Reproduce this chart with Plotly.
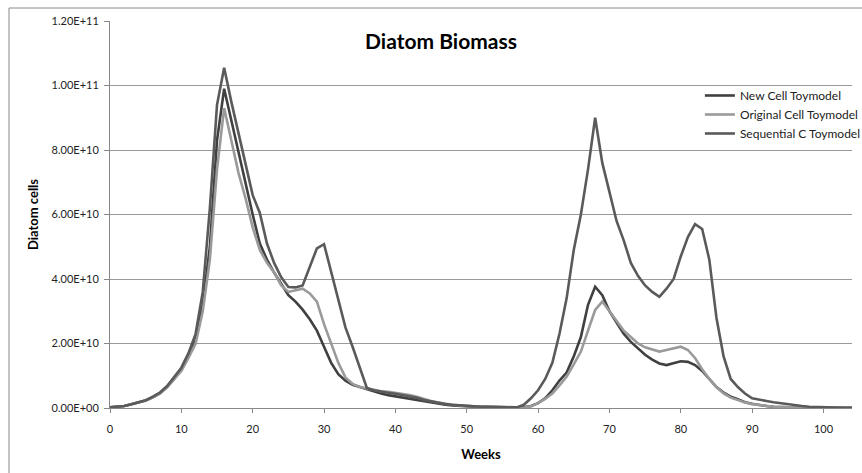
import plotly.graph_objects as go

# Weeks 0..104
weeks = list(range(105))

# Diatom cell counts, in units of 1e10 cells
new_cell = [
    0.02, 0.03, 0.06, 0.12, 0.18, 0.23, 0.33, 0.45, 0.65, 0.90,   # 0-9
    1.20, 1.60, 2.10, 3.20, 5.00, 8.30, 9.90, 8.90, 7.90, 7.00,   # 10-19
    6.00, 5.10, 4.60, 4.20, 3.85, 3.50, 3.30, 3.05, 2.75, 2.40,   # 20-29
    1.90, 1.40, 1.05, 0.85, 0.72, 0.65, 0.60, 0.52, 0.45, 0.40,   # 30-39
    0.36, 0.32, 0.30, 0.25, 0.20, 0.16, 0.13, 0.10, 0.08, 0.06,   # 40-49
    0.05, 0.04, 0.04, 0.03, 0.03, 0.03, 0.02, 0.02, 0.02, 0.06,   # 50-59
    0.15, 0.30, 0.55, 0.85, 1.10, 1.60, 2.20, 3.20, 3.76, 3.50,   # 60-69
    3.00, 2.65, 2.30, 2.05, 1.85, 1.65, 1.50, 1.38, 1.33, 1.40,   # 70-79
    1.45, 1.43, 1.33, 1.15, 0.90, 0.65, 0.48, 0.35, 0.27, 0.18,   # 80-89
    0.13, 0.09, 0.06, 0.04, 0.03, 0.02, 0.02, 0.01, 0.01, 0.01,   # 90-99
    0.01, 0.01, 0.01, 0.01, 0.01,                                 # 100-104
]

original_cell = [
    0.02, 0.03, 0.06, 0.12, 0.18, 0.23, 0.33, 0.45, 0.65, 0.90,
    1.15, 1.55, 2.00, 3.00, 4.60, 7.40, 9.30, 8.30, 7.30, 6.50,
    5.60, 4.90, 4.50, 4.20, 3.80, 3.60, 3.65, 3.70, 3.55, 3.30,
    2.60, 2.00, 1.40, 0.95, 0.75, 0.65, 0.60, 0.56, 0.52, 0.50,
    0.47, 0.44, 0.40, 0.35, 0.28, 0.22, 0.17, 0.13, 0.10, 0.08,
    0.06, 0.05, 0.04, 0.04, 0.03, 0.03, 0.02, 0.02, 0.01, 0.05,
    0.15, 0.28, 0.45, 0.70, 0.97, 1.35, 1.75, 2.40, 3.04, 3.30,
    3.00, 2.70, 2.40, 2.20, 2.00, 1.88, 1.82, 1.75, 1.80, 1.85,
    1.90, 1.80, 1.55, 1.20, 0.90, 0.65, 0.45, 0.32, 0.24, 0.17,
    0.12, 0.09, 0.06, 0.04, 0.03, 0.02, 0.02, 0.01, 0.01, 0.01,
    0.01, 0.01, 0.01, 0.01, 0.01,
]

sequential_c = [
    0.02, 0.03, 0.06, 0.12, 0.18, 0.24, 0.35, 0.48, 0.68, 0.95,
    1.25, 1.70, 2.30, 3.60, 6.20, 9.40, 10.55, 9.50, 8.50, 7.50,
    6.60, 6.05, 5.10, 4.50, 4.05, 3.75, 3.74, 3.80, 4.40, 4.95,
    5.08, 4.20, 3.30, 2.50, 1.90, 1.25, 0.62, 0.55, 0.50, 0.47,
    0.44, 0.40, 0.38, 0.32, 0.25, 0.20, 0.15, 0.12, 0.10, 0.08,
    0.06, 0.05, 0.04, 0.04, 0.03, 0.03, 0.02, 0.02, 0.10, 0.30,
    0.55, 0.90, 1.40, 2.30, 3.40, 4.90, 6.00, 7.40, 9.00, 7.60,
    6.70, 5.80, 5.20, 4.50, 4.10, 3.80, 3.60, 3.45, 3.70, 4.00,
    4.70, 5.30, 5.70, 5.55, 4.60, 2.80, 1.60, 0.90, 0.65, 0.45,
    0.30, 0.25, 0.22, 0.18, 0.15, 0.10, 0.08, 0.06, 0.04, 0.03,
    0.02, 0.02, 0.01, 0.01, 0.01,
]

series_names = ["New Cell Toymodel", "Original Cell Toymodel", "Sequential C Toymodel"]
series_colors = ["#404040", "#9a9a9a", "#5a5a5a"]

y_tick_vals = [0, 2e10, 4e10, 6e10, 8e10, 1e11, 1.2e11]
y_tick_text = ["0.00E+00", "2.00E+10", "4.00E+10", "6.00E+10", "8.00E+10", "1.00E+11", "1.20E+11"]
x_tick_vals = [0, 10, 20, 30, 40, 50, 60, 70, 80, 90, 100]

FONT = "Lato, 'Liberation Sans', sans-serif"

fig = go.Figure()
for name, color, vals in zip(series_names, series_colors,
                             [new_cell, original_cell, sequential_c]):
    fig.add_trace(go.Scatter(
        x=weeks,
        y=[v * 1e10 for v in vals],
        mode="lines",
        name=name,
        line=dict(color=color, width=2.6),
    ))

fig.update_layout(
    width=862,
    height=473,
    margin=dict(l=110, r=10, t=21, b=65, autoexpand=False),
    paper_bgcolor="white",
    plot_bgcolor="white",
    font=dict(family=FONT, size=11, color="#222"),
    title=dict(
        text="<b>Diatom Biomass</b>",
        x=441 / 862, xanchor="center",
        y=1 - 42 / 473, yanchor="middle",
        font=dict(family=FONT, size=21, color="#000"),
    ),
    legend=dict(
        x=0.795, y=0.845, xanchor="left", yanchor="top",
        bgcolor="rgba(0,0,0,0)",
        font=dict(family=FONT, size=12, color="#222"),
        itemwidth=30,
        tracegroupgap=0,
    ),
    showlegend=True,
    xaxis=dict(
        range=[0, 104],
        tickmode="array",
        tickvals=x_tick_vals,
        ticks="outside", ticklen=4, tickcolor="#888",
        showline=True, linecolor="#888", linewidth=1,
        showgrid=False, zeroline=False,
        ticklabelstandoff=7,
        title=dict(text="<b>Weeks</b>", font=dict(family=FONT, size=13, color="#000"), standoff=15),
        tickfont=dict(family=FONT, size=11, color="#222"),
    ),
    yaxis=dict(
        range=[0, 1.2e11],
        tickmode="array",
        tickvals=y_tick_vals,
        ticktext=y_tick_text,
        ticks="outside", ticklen=5, tickcolor="#888",
        showline=True, linecolor="#888", linewidth=1,
        showgrid=True, gridcolor="#9a9a9a", gridwidth=1,
        zeroline=False,
        ticklabelstandoff=3,
        title=dict(text="<b>Diatom cells</b>", font=dict(family=FONT, size=13, color="#000"), standoff=10),
        tickfont=dict(family=FONT, size=11, color="#222"),
    ),
)

# Chart-area frame (extends past the right and bottom edges of the page)
fig.add_shape(
    type="rect", xref="paper", yref="paper",
    x0=(9 - 110) / 742, x1=1.2, y0=-0.4, y1=(408 - 8) / 387,
    line=dict(color="#8a8a8a", width=1), fillcolor="rgba(0,0,0,0)",
    layer="below",
)

fig.write_html("out.html")
